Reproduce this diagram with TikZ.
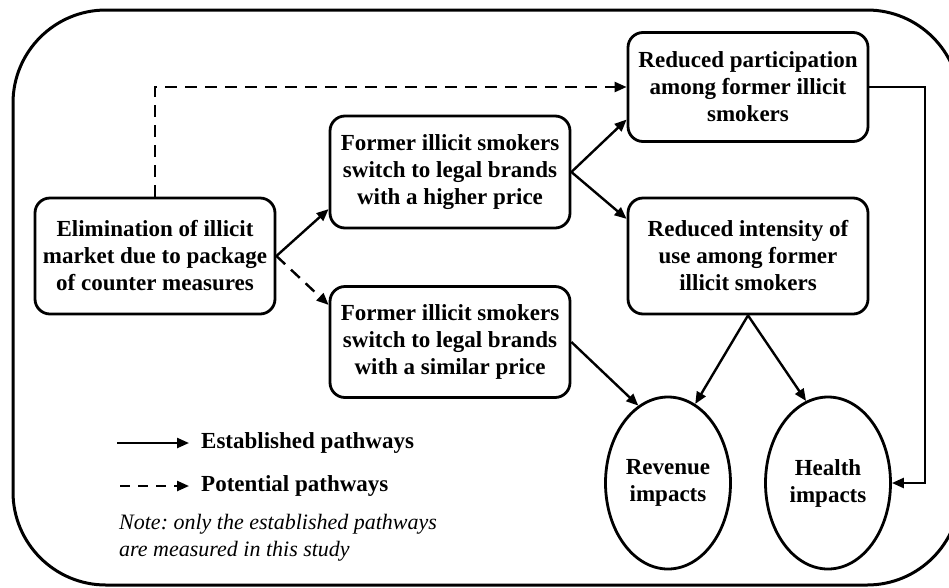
\documentclass[tikz,border=0pt]{standalone}
\usepackage{fontspec}
\setmainfont{Liberation Serif}
\usetikzlibrary{arrows.meta,shapes.geometric}
\frenchspacing
\begin{document}
\begin{tikzpicture}[x=1pt,y=-1pt,
  txt/.style={font=\bfseries\fontsize{23}{27}\selectfont,align=center},
  box/.style={txt,draw,line width=2.8pt,rounded corners=15pt,inner sep=0pt,minimum width=240pt},
  oval/.style={txt,draw,ellipse,line width=2.8pt,inner sep=0pt,minimum width=125pt,minimum height=172pt},
  arr/.style={line width=2.4pt,-{Triangle[length=12pt,width=10pt]}},
  darr/.style={arr,dash pattern=on 12pt off 8pt},
  frame/.style={line width=3pt}
]
\path[use as bounding box] (0,0) rectangle (949,587);
\begin{scope}
\clip (0,0) rectangle (949,587);
\draw[frame,rounded corners=93pt] (13,10) rectangle (960,585);
\end{scope}

\node[box,minimum height=116pt] (elim) at (155,256) {Elimination of illicit\\market due to package\\of counter measures};
\node[box,minimum height=112pt] (higher) at (450,172) {Former illicit smokers\\switch to legal brands\\with a higher price};
\node[box,minimum height=111pt] (similar) at (450,342) {Former illicit smokers\\switch to legal brands\\with a similar price};
\node[box,minimum height=109pt] (part) at (748,87) {Reduced participation\\among former illicit\\smokers};
\node[box,minimum height=116pt] (inten) at (748,256) {Reduced intensity of\\use among former\\illicit smokers};
\node[oval] (rev) at (668,483) {Revenue\\impacts};
\node[oval] (health) at (828,483) {Health\\impacts};

\draw[darr] (elim.north) -- (elim.north |- part.west) -- (part.west);
\draw[arr] (elim.east) -- (higher.197);
\draw[darr] (elim.east) -- (similar.163);
\draw[arr] (higher.east) -- (part.195);
\draw[arr] (higher.east) -- (inten.163);
\draw[arr] (similar.east) -- (rev.111);
\draw[arr] (inten.south) -- (rev.71);
\draw[arr] (inten.south) -- (health.105);
\coordinate (turn) at (925,87);
\draw[arr] (part.east) -- (turn) |- (health.east);

% legend
\coordinate (l1a) at (117,443);
\coordinate (l1b) at (189,443);
\coordinate (l2a) at (120,486);
\coordinate (l2b) at (189,486);
\draw[arr] (l1a) -- (l1b);
\draw[arr,dash pattern=on 10pt off 8pt] (l2a) -- (l2b);
\node[txt,anchor=west,inner sep=0pt] (est) at (201,443) {Established pathways};
\node[txt,anchor=west,inner sep=0pt] (pot) at (201,486) {Potential pathways};
\node[anchor=north west,inner sep=0pt,align=left,font=\itshape\fontsize{22}{27}\selectfont] (note) at (119,514) {Note: only the established pathways\\are measured in this study};
\end{tikzpicture}
\end{document}
